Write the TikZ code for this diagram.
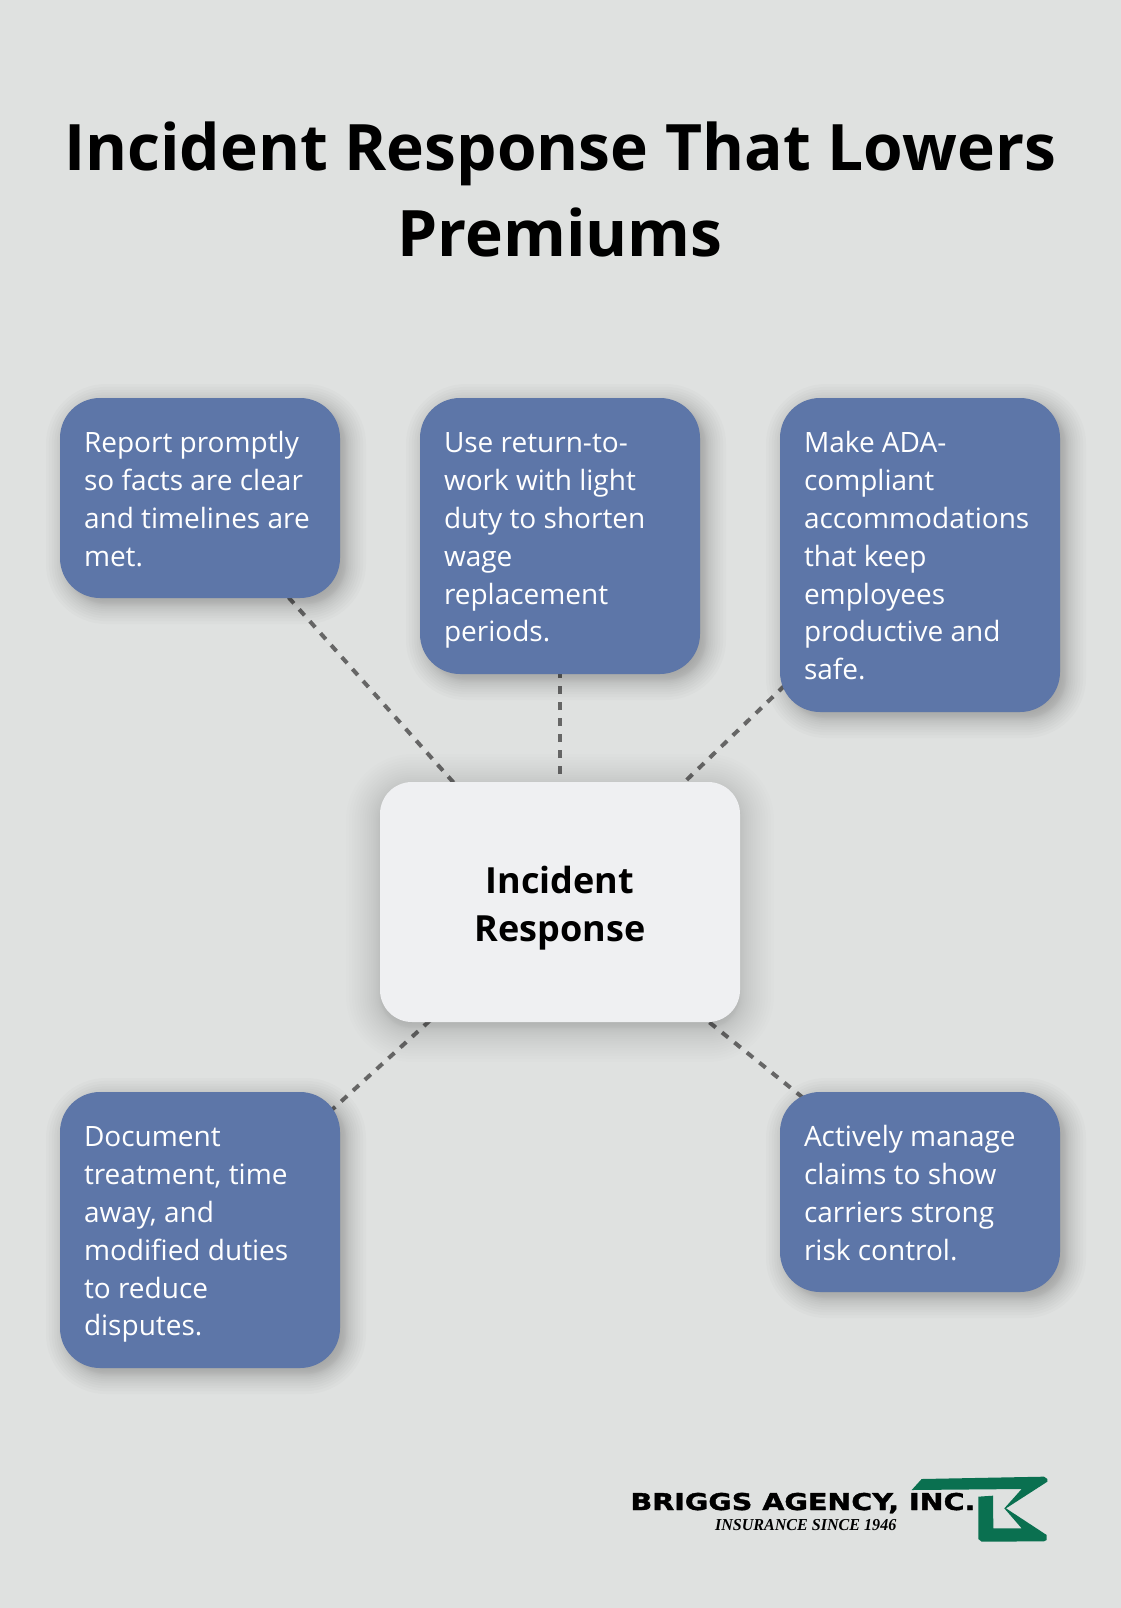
\documentclass[tikz,border=0pt]{standalone}
\usepackage{graphicx}
\usepackage{fontspec}
\usetikzlibrary{calc}
\setmainfont{Open Sans}
\newfontfamily\logofont{DejaVu Sans Bold}[FakeBold=1.5]
\newfontfamily\sloganfont{Liberation Serif}
\definecolor{pagebg}{HTML}{DFE1E0}
\definecolor{bluebox}{HTML}{5D76A8}
\definecolor{hubfill}{HTML}{EFF0F2}
\definecolor{linkgray}{HTML}{666666}
\definecolor{logogreen}{HTML}{0A7050}
\pgfdeclarelayer{under}%
\pgfsetlayers{under,main}%
\tikzset{
  x=0.75pt,y=-0.75pt,
  sat/.style={rectangle,inner sep=0pt,outer sep=0pt,minimum width=210pt,fill=bluebox,rounded corners=30pt,
     text=white,text width=174pt,align=left,
     font=\fontsize{21}{28.35}\selectfont,
     execute at begin node={\spaceskip=0pt\relax\rule{0pt}{23pt}},
     execute at end node={\rule[-6pt]{0pt}{6pt}}},
  hub/.style={rectangle,inner sep=0pt,outer sep=0pt,minimum width=270pt,minimum height=180pt,fill=hubfill,rounded corners=24pt,
     text=black,text width=270pt,align=center,
     font=\fontsize{27}{36}\selectfont\bfseries,
     execute at begin node={\rule{0pt}{29.5pt}},
     execute at end node={\rule[-7pt]{0pt}{7pt}}},
  link/.style={draw=linkgray,line width=3pt,dash pattern=on 6pt off 6pt},
  titletext/.style={inner sep=0pt,outer sep=0pt,align=center,text=black,anchor=base,
     font=\fontsize{48.05}{64.8}\selectfont\bfseries},
  logotext/.style={inner sep=0pt,outer sep=0pt,anchor=base west,text=black}
}
% soft shadow of a named node: node, radius(px), dx, dy, half blur G (px), step, alpha per layer
\newcommand{\softshadow}[7]{%
  \pgfmathtruncatemacro{\nn}{2*#5/#6}%
  \foreach \k in {0,...,\nn}{%
    \pgfmathsetmacro{\t}{-1+2*\k/\nn}%
    \pgfmathsetmacro{\g}{#5*sign(\t)*abs(\t)*sqrt(abs(\t))}%
    \pgfmathsetmacro{\rr}{max(#2+\g,1)*0.75}%
    \fill[black,fill opacity=#7,rounded corners=\rr pt]
      ($(#1.north west)+(#3-\g,#4-\g)$) rectangle ($(#1.south east)+(#3+\g,#4+\g)$);%
  }%
}
\begin{document}
\begin{tikzpicture}
\useasboundingbox (0,0) rectangle (1120,1608);
\begin{pgfonlayer}{under}%
\fill[pagebg] (0,0) rectangle (1140,1608);%
\end{pgfonlayer}%
\node[titletext] (title) at (560,257) {Incident Response That Lowers\\Premiums};
\node[sat,minimum height=150pt] (s1) at (200,498) {Report promptly\\so facts are clear\\and timelines are\\met.};
\node[sat,minimum height=207pt] (s2) at (560,536) {Use return-to-\\work with light\\duty to shorten\\wage\\replacement\\periods.};
\node[sat,minimum height=235.5pt] (s3) at (920,555) {Make ADA-\\compliant\\accommodations\\that keep\\employees\\productive and\\safe.};
\node[sat,minimum height=207pt] (s4) at (200,1230) {Document\\treatment, time\\away, and\\modified duties\\to reduce\\disputes.};
\node[sat,minimum height=150pt] (s5) at (920,1192) {Actively manage\\claims to show\\carriers strong\\risk control.};
\node[hub] (core) at (560,902) {Incident\\Response};
\begin{pgfonlayer}{under}%
\foreach \s in {s1,s2,s3,s4,s5}{\draw[link] (core.center) -- (\s.center);}%
\foreach \s in {s1,s2,s3,s4,s5}{\softshadow{\s}{40}{6}{6}{20}{2}{0.0167}}%
\softshadow{core}{32}{0}{6}{34}{2}{0.0065}%
\end{pgfonlayer}%
\node[logotext] (brand) at (630.5,1510) {\resizebox{258.7pt}{12.9pt}{\logofont BRIGGS AGENCY, INC.}};
\node[logotext] (slogan) at (715,1530) {\resizebox{136pt}{8.3pt}{\sloganfont\bfseries\itshape INSURANCE SINCE 1946}};
\begin{scope}[shift={(900,1465)},x=0.25pt,y=-0.25pt]
\fill[logogreen,line join=round] (35,75) -- (65,42) -- (432,35) -- (442,42) -- (442,50) -- (318,130) -- (440,210) -- (440,225) -- (432,229) -- (245,230) -- (235,222) -- (235,95) -- (279,92) -- (280,190) -- (365,190) -- (313,130) -- (365,72) -- cycle;
\end{scope}
\end{tikzpicture}
\end{document}
